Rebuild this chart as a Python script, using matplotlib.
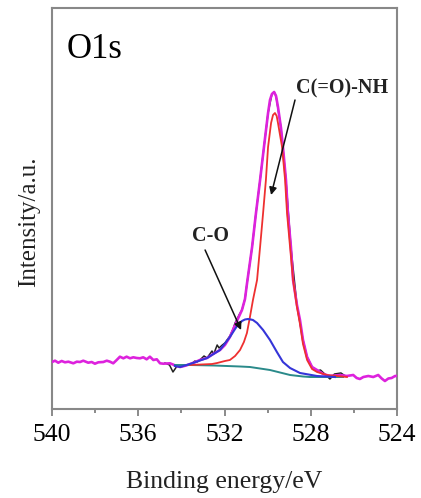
import matplotlib
matplotlib.use("Agg")
import matplotlib.pyplot as plt

plt.rcParams['font.family'] = ['Liberation Serif', 'DejaVu Serif']

# ---- data (binding energy in eV, intensity in a.u.) ----
envelope_energy = [540.00, 539.86, 539.71, 539.55, 539.40, 539.24, 539.01, 538.85, 538.70,
                   538.55, 538.32, 538.16, 538.01, 537.85, 537.62, 537.46, 537.31, 537.16,
                   537.00, 536.85, 536.69, 536.54, 536.38, 536.23, 536.07, 535.92, 535.77,
                   535.61, 535.46, 535.30, 535.14, 534.99, 534.84, 534.53,
                   534.22, 534.06, 533.78, 533.46, 533.14, 532.81, 532.53, 532.21, 531.98,
                   531.75, 531.51, 531.19, 531.05, 530.96, 530.72, 530.54, 530.35, 530.17,
                   529.98, 529.89, 529.80, 529.70, 529.61, 529.52, 529.38, 529.29, 529.15,
                   529.06, 528.92, 528.82, 528.64, 528.50, 528.36, 528.17, 527.94, 527.71,
                   527.42, 527.11, 526.64, 526.33, 526.03, 525.87, 525.72, 525.56, 525.33,
                   525.10, 524.87, 524.71, 524.56, 524.40, 524.25, 524.09, 524.00]
envelope_intensity = [47, 48.3, 46.3, 48, 46.7, 47.3, 45.7, 47.3, 47,
                      48.3, 46.3, 47, 45.3, 46.7, 47, 48.3, 47.3, 45.7,
                      49, 52.3, 50.7, 52.3, 50.7, 51.7, 51, 50.7, 51.7,
                      49.7, 52.3, 49, 49.7, 45.7, 45.3, 45.7,
                      43, 42, 43.5, 46, 49, 51, 55, 59, 64,
                      72, 84, 99, 110, 125, 162, 196, 229, 262,
                      296, 309, 315, 317, 313, 302, 281, 262, 229,
                      196, 162, 129, 104, 89, 69, 52, 42, 39,
                      35, 33, 34, 33, 34, 31, 30, 32, 33,
                      32, 34, 30.5, 28, 30.5, 31, 33, 33]

raw_energy = [534.76, 534.55, 534.39, 534.20, 533.90, 533.60, 533.37, 533.28, 533.14,
              532.95, 532.81, 532.58, 532.50, 532.34, 532.25, 532.10, 531.98, 531.75,
              531.60, 531.51, 531.30, 531.19, 531.05, 530.96, 530.72, 530.54, 530.35,
              530.17, 529.98, 529.80, 529.70, 529.61, 529.38, 529.15, 528.92, 528.64,
              528.36, 528.17, 527.94, 527.71, 527.55, 527.40, 527.11, 526.90, 526.60,
              526.40]
raw_intensity = [46, 44, 37, 43, 43.5, 44, 48, 47, 49,
                 53, 51, 58, 55, 64, 61, 64, 66, 73,
                 80, 86, 95, 99, 110, 125, 162, 196, 229,
                 262, 296, 315, 317, 313, 281, 229, 162, 104,
                 69, 52, 42, 38, 39, 36, 30, 35, 36,
                 33]

amide_energy = [533.60, 532.58, 532.34, 531.98, 531.75, 531.51, 531.28, 531.10, 530.96,
                530.82, 530.68, 530.49, 530.35, 530.21, 530.08, 529.98, 529.84, 529.75,
                529.66, 529.58, 529.52, 529.33, 529.19, 529.10, 528.96, 528.82, 528.64,
                528.50, 528.36, 528.17, 527.94, 527.71, 527.25, 526.32]
amide_intensity = [44, 45, 46, 48, 49, 53, 59, 67, 76,
                   92, 109, 129, 162, 196, 229, 262, 286, 294,
                   296, 293, 286, 262, 229, 196, 162, 129, 102,
                   85, 65, 49, 40, 37, 34, 32]

co_energy = [534.30, 534.06, 533.46, 532.81, 532.21, 531.75, 531.42, 531.19, 531.05,
             530.91, 530.78, 530.68, 530.49, 530.21, 529.89, 529.57, 529.29, 528.96,
             528.50, 527.71, 526.88]
co_intensity = [43, 42, 46, 51, 59, 72, 83, 88, 89.5,
                90, 89.5, 89, 86, 79, 69, 57, 47, 41,
                36, 33, 32]

bg_energy = [534.30, 533.60, 532.50, 531.28, 530.82, 529.89, 528.96, 528.36, 528.04,
             527.60, 526.50]
bg_intensity = [44, 44, 43.5, 42.5, 42, 39, 34, 32.5, 32, 32, 32]

x_ticks = [540, 536, 532, 528, 524]
x_minor = [538, 534, 530, 526]

# ---- figure ----
fig = plt.figure(figsize=(4.21, 4.98), dpi=100)
ax = fig.add_axes([52/421, 89/498, 345/421, 401/498])

ax.plot(raw_energy, raw_intensity, color='#222222', lw=1.1, zorder=2)
ax.plot(envelope_energy, envelope_intensity, color='#dd22dd', lw=1.9, zorder=3)
ax.plot(bg_energy, bg_intensity, color='#2a8a8a', lw=1.4, zorder=4)
ax.plot(amide_energy, amide_intensity, color='#ee3030', lw=1.3, zorder=4)
ax.plot(co_energy, co_intensity, color='#3535d8', lw=1.5, zorder=5)

ax.set_xlim(540, 524)
ax.set_ylim(0, 401)
ax.set_xticks(x_ticks)
ax.set_xticks(x_minor, minor=True)
ax.set_xticklabels([str(t) for t in x_ticks], fontsize=18.5)
ax.set_yticks([])
ax.tick_params(axis='x', which='major', direction='out', length=5, width=1.2,
               color='#777777', pad=6)
ax.tick_params(axis='x', which='minor', direction='out', length=3, width=1.2,
               color='#777777')
for s in ax.spines.values():
    s.set_color('#888888')
    s.set_linewidth(1.5)

ax.set_xlabel('Binding energy/eV', fontsize=18.5, color='#222222')
ax.xaxis.set_label_coords(0.5, -0.155)
ax.set_ylabel('Intensity/a.u.', fontsize=18, color='#222222')
ax.yaxis.set_label_coords(-0.035, 0.466)

ax.text(0.043, 0.875, 'O1s', transform=ax.transAxes, fontsize=25,
        ha='left', va='baseline', color='black')

ax.text(526.53, 321, 'C(=O)-NH', fontsize=14.5, fontweight='bold',
        ha='center', va='center', color='#222222')
ax.text(532.63, 173, 'C-O', fontsize=14.5, fontweight='bold',
        ha='center', va='center', color='#222222')

arrow_style = dict(arrowstyle='-|>', color='#111111', lw=1.1, mutation_scale=11,
                   shrinkA=0, shrinkB=0)
ax.annotate('', xy=(529.84, 214), xytext=(528.73, 309), arrowprops=arrow_style, zorder=6)
ax.annotate('', xy=(531.23, 79), xytext=(532.90, 159), arrowprops=arrow_style, zorder=6)

fig.savefig('out.png', dpi=100)
